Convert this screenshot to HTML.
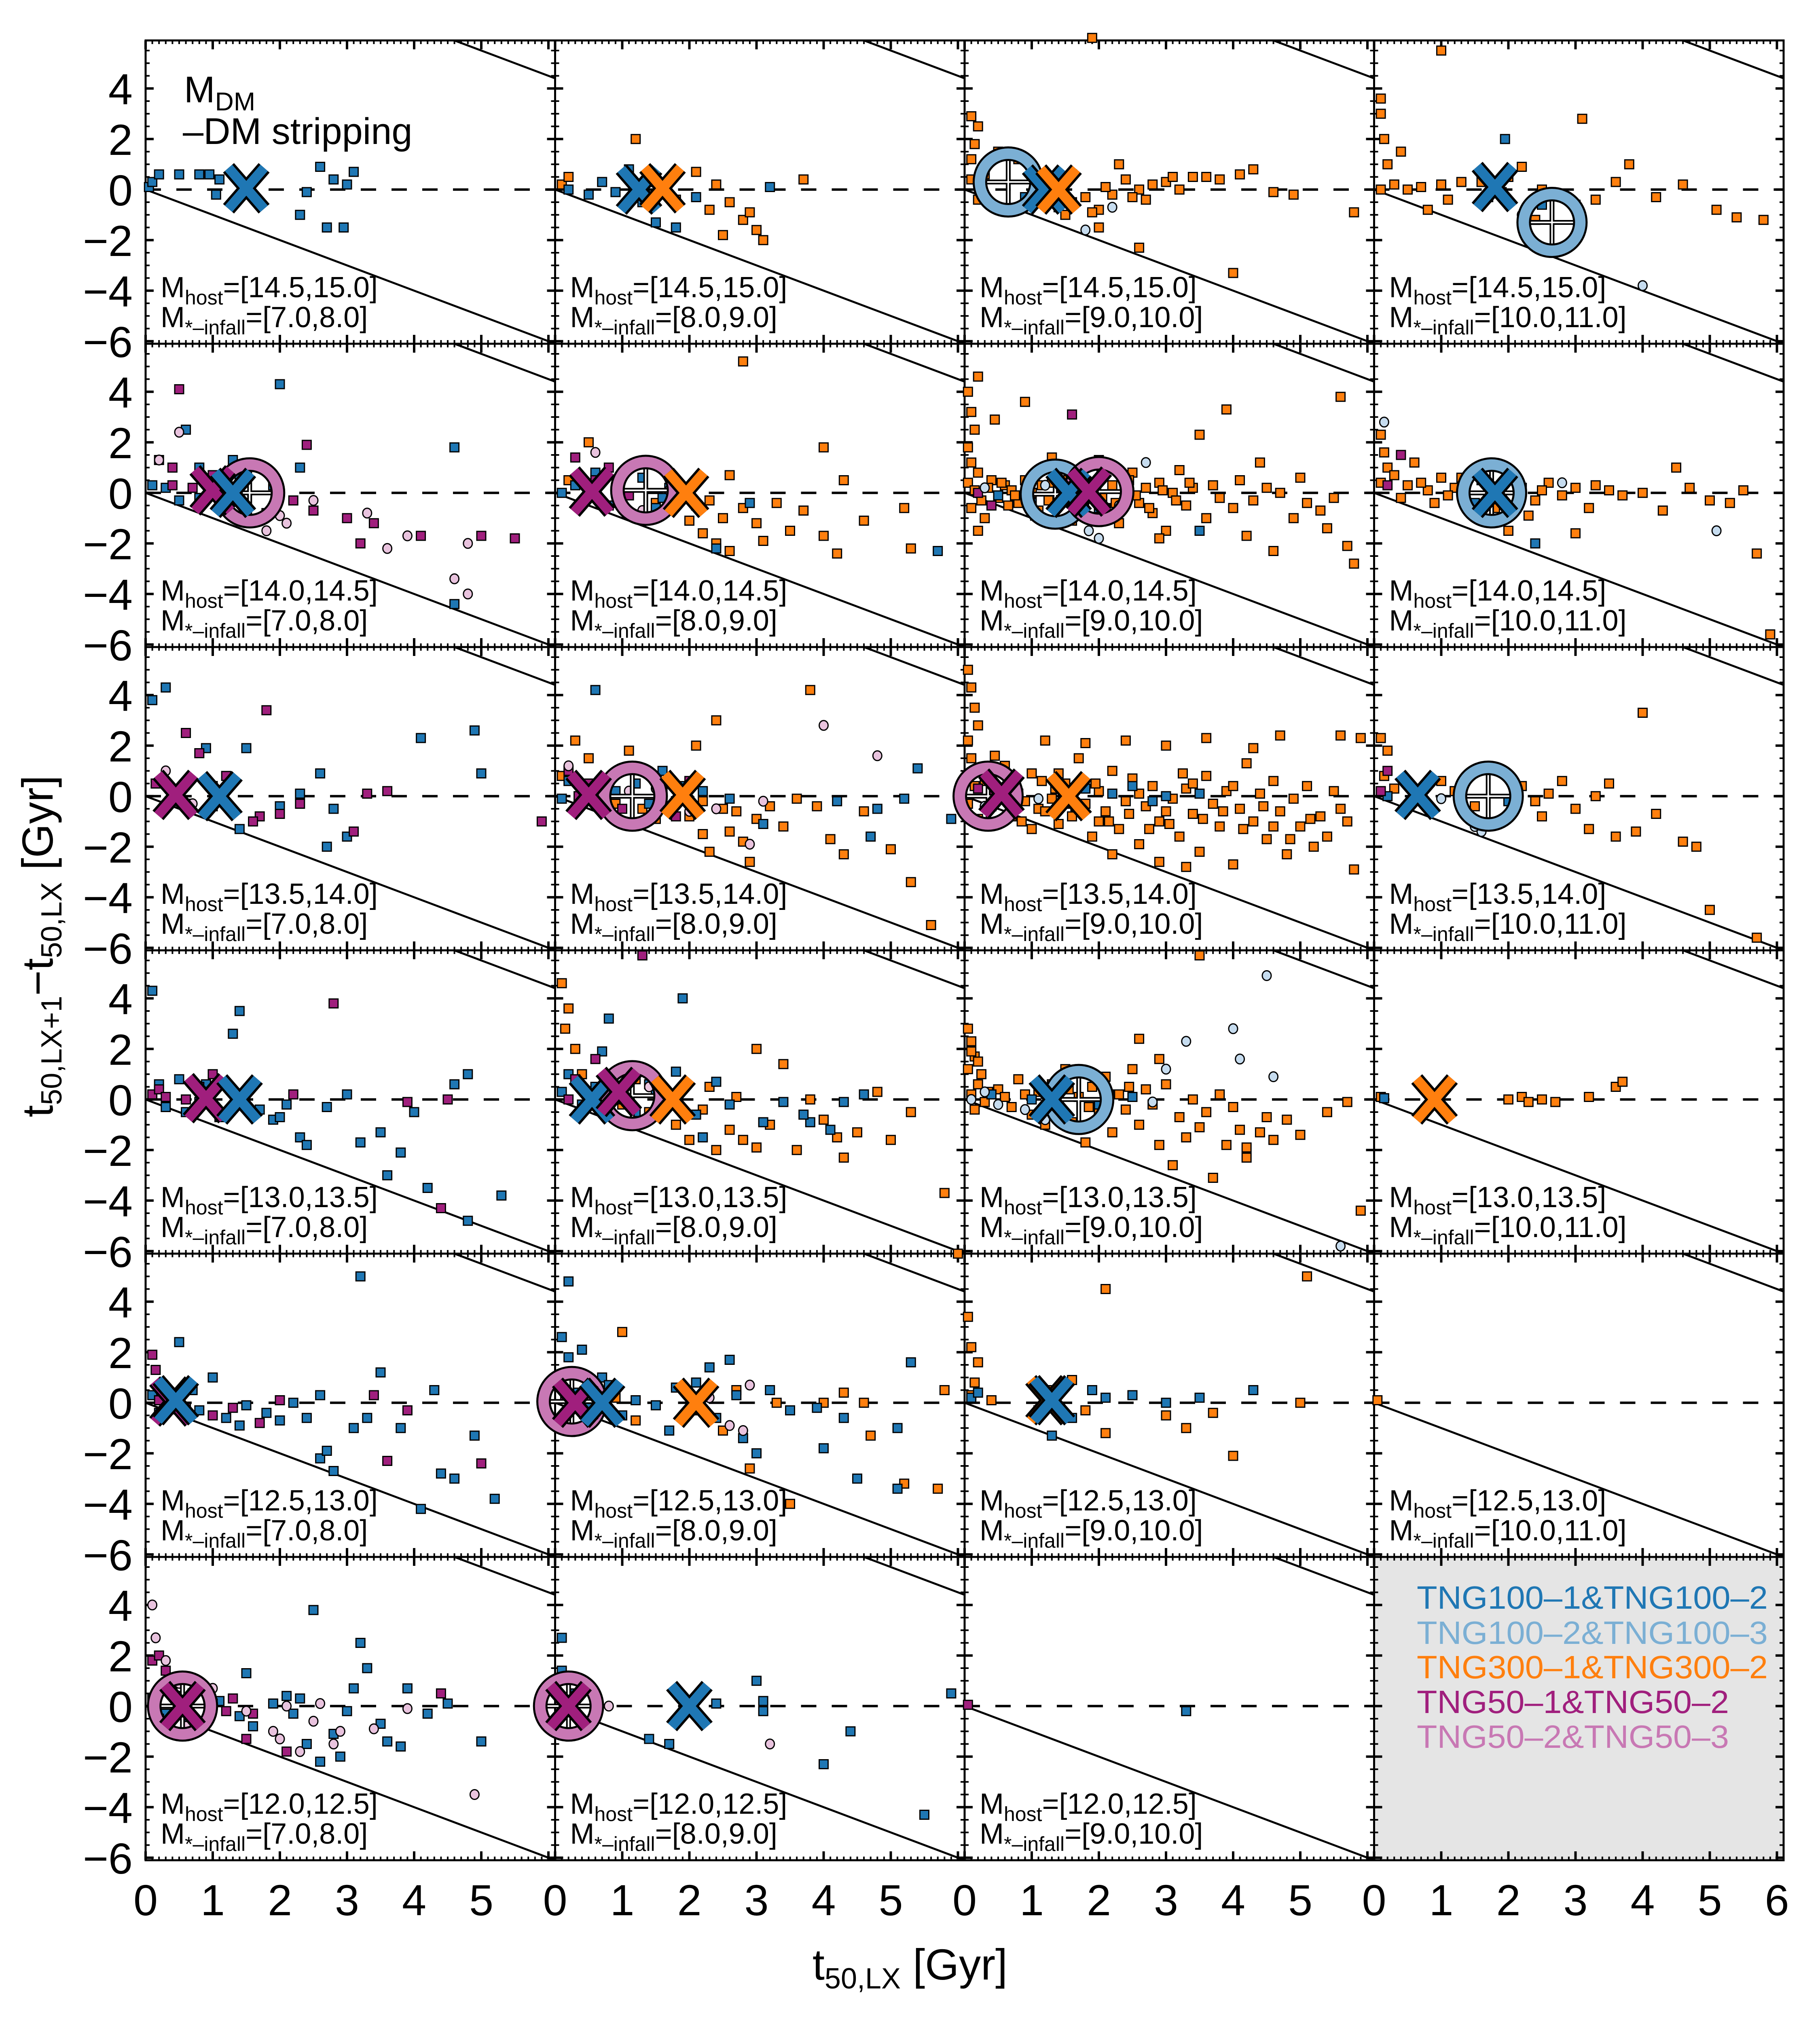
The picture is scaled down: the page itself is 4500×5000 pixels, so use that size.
<!DOCTYPE html>
<html><head><meta charset="utf-8">
<style>
html,body{margin:0;padding:0;background:#fff;}
svg{display:block;font-family:"Liberation Sans",sans-serif;}
</style></head>
<body>
<svg id="fig" width="4500" height="5000" viewBox="0 0 4500 5000" xmlns="http://www.w3.org/2000/svg"></svg>
<script>
// ---------- data (x = t50,LX [Gyr], y = t50,LX+1 - t50,LX [Gyr]) ----------
const hostBins = ["[14.5,15.0]","[14.0,14.5]","[13.5,14.0]","[13.0,13.5]","[12.5,13.0]","[12.0,12.5]"];
const starBins = ["[7.0,8.0]","[8.0,9.0]","[9.0,10.0]","[10.0,11.0]"];
const xTicks0 = [0,1,2,3,4,5];
const xTicksLast = [0,1,2,3,4,5,6];
const yTicks = [4,2,0,-2,-4,-6];
const legendLabels = ["TNG100\u20131&TNG100\u20132","TNG100\u20132&TNG100\u20133","TNG300\u20131&TNG300\u20132","TNG50\u20131&TNG50\u20132","TNG50\u20132&TNG50\u20133"];

// row 0
const B00=[[0.05,0.1],[0.1,0.3],[0.2,0.6],[0.5,0.6],[0.8,0.6],[0.95,0.6],[1.1,0.4],[1.05,-0.2],[2.4,-0.1],[2.6,0.9],[2.8,0.4],[3.1,0.7],[3.0,0.2],[2.7,-1.5],[2.95,-1.5],[2.3,-1.0]];
const O01=[[0.1,0.2],[0.2,0.5],[1.2,2.0],[1.5,0.3],[2.1,0.7],[2.4,0.2],[2.6,-0.5],[2.8,-1.2],[3.0,-1.6],[3.1,-2.0],[2.5,-1.8],[3.7,0.4],[2.9,-0.9],[1.8,-0.4],[2.3,-0.8]];
const B01=[[0.2,0.0],[0.5,-0.2],[0.7,0.3],[0.9,-0.1],[1.1,0.8],[1.3,-0.5],[1.5,-1.3],[1.8,-1.5],[2.1,-0.3],[3.2,0.1]];
const O02=[[0.1,2.9],[0.2,2.5],[0.15,1.8],[0.1,1.2],[0.3,0.6],[0.2,-0.4],[0.1,0.4],[0.5,1.5],[0.8,1.2],[1.0,-0.5],[1.4,-0.7],[1.6,0.6],[1.8,-0.3],[2.0,-0.8],[2.2,-0.2],[2.4,0.4],[2.6,0.0],[2.8,0.2],[3.0,0.3],[3.2,0.0],[3.4,0.5],[3.6,0.5],[3.8,0.4],[4.1,0.6],[4.3,0.8],[4.6,-0.1],[4.9,-0.2],[5.8,-0.9],[4.0,-3.3],[2.0,-1.5],[2.6,-2.3],[2.5,-0.3],[3.1,0.5],[2.3,1.0],[1.9,6.0],[1.5,-1.0],[1.2,0.5],[1.9,-0.9],[2.1,0.1],[2.7,-0.4]];
const L02=[[1.0,-0.3],[1.8,-1.6],[2.2,-0.7]];
const B02=[[0.9,-0.3],[1.6,-0.5]];
const O03=[[0.1,3.6],[0.1,3.0],[0.15,2.0],[0.2,1.0],[0.3,0.2],[0.1,0.0],[0.5,0.0],[0.7,0.1],[1.0,0.2],[1.1,-0.4],[1.3,0.3],[1.6,0.3],[1.9,-0.1],[2.0,0.5],[2.2,0.9],[2.5,0.0],[2.8,-0.3],[3.1,2.8],[3.3,-0.4],[3.6,0.3],[3.8,1.0],[4.2,-0.3],[4.6,0.2],[5.1,-0.8],[5.4,-1.1],[5.8,-1.2],[1.0,5.5],[2.4,-1.2],[3.0,-0.6],[0.4,1.5],[0.8,-0.8]];
const B03=[[1.95,2.0],[2.5,-0.6],[1.7,-0.3]];
const L03=[[2.2,-1.0],[4.0,-3.8]];
// row 1
const B10=[[0.1,0.3],[0.3,0.2],[0.5,-0.3],[0.6,2.5],[0.8,1.0],[1.0,0.5],[1.3,1.3],[1.4,0.6],[2.0,4.3],[1.9,0.3],[1.8,-0.8],[2.3,1.0],[4.6,1.8],[4.6,-4.4],[0.8,-0.2]];
const P10=[[0.2,1.3],[0.4,1.0],[0.5,4.1],[0.4,0.3],[0.7,0.2],[1.0,0.7],[1.2,-0.3],[2.4,1.9],[2.2,-0.3],[2.5,-0.7],[3.0,-1.0],[3.4,-1.2],[3.2,-2.0],[5.0,-1.7],[5.5,-1.8],[4.1,-1.7]];
const K10=[[0.2,1.3],[0.5,2.4],[1.5,0.6],[1.8,-1.5],[2.1,-1.2],[2.5,-0.3],[3.3,-0.8],[3.6,-2.2],[3.9,-1.7],[4.6,-3.4],[4.8,-4.0],[4.8,-2.0],[2.0,-0.9]];
const O11=[[0.2,0.5],[0.5,2.0],[1.9,0.1],[2.0,-1.1],[2.2,-1.6],[2.4,-2.0],[2.6,-2.3],[3.0,-1.2],[3.3,-0.4],[3.5,-1.5],[3.7,-0.7],[4.0,-1.7],[4.2,-2.4],[4.3,0.5],[4.6,-1.1],[5.2,-0.6],[5.3,-2.2],[2.8,-0.6],[1.5,-0.4],[2.6,0.7],[2.8,5.2],[4.0,1.8],[2.3,-0.3],[3.1,-1.9],[2.1,-0.5],[2.5,-1.0]];
const B11=[[0.1,0.0],[0.3,0.3],[0.6,0.8],[0.8,-0.5],[1.3,0.6],[1.6,-0.2],[1.7,0.2],[2.4,-2.2],[2.9,-0.4],[5.7,-2.3],[1.5,-0.6]];
const P11=[[0.3,1.4],[0.8,1.0],[1.1,-0.1],[0.6,0.5]];
const K11=[[0.6,1.6],[1.7,0.1],[1.3,-0.7]];
const O12=[[0.05,4.0],[0.1,3.2],[0.15,2.5],[0.05,1.8],[0.1,1.2],[0.2,0.8],[0.05,0.4],[0.15,0.1],[0.25,-0.3],[0.1,-0.6],[0.3,-1.0],[0.2,-1.5],[0.4,0.5],[0.5,-0.2],[0.6,0.3],[0.7,0.1],[0.8,-0.4],[0.9,0.5],[1.0,0.0],[1.1,-0.7],[1.3,0.4],[1.5,-0.3],[1.7,0.6],[1.9,-0.1],[2.0,1.3],[2.1,-0.6],[2.2,0.3],[2.3,-1.2],[2.4,0.0],[2.5,0.8],[2.6,-0.4],[2.7,0.2],[2.8,-0.8],[2.9,0.4],[3.0,-1.5],[3.1,0.0],[3.2,0.9],[3.3,-0.5],[3.4,0.2],[3.5,2.3],[3.6,-1.0],[3.7,0.3],[3.8,-0.2],[3.9,3.3],[4.0,-0.6],[4.1,0.5],[4.2,-1.7],[4.3,-0.3],[4.5,0.2],[4.6,-2.3],[4.7,0.0],[4.9,-1.0],[5.0,0.6],[5.1,-0.4],[5.3,-0.7],[5.4,-1.4],[5.5,-0.2],[5.7,-2.1],[5.8,-2.8],[5.6,3.8],[1.6,-1.1],[2.9,-1.8],[4.4,1.2],[0.9,3.6],[0.45,2.9],[0.2,4.6],[1.3,1.4],[0.35,0.2],[0.55,0.4],[0.75,-0.1],[0.95,0.2],[1.15,0.3],[1.25,-0.3],[1.45,0.5],[1.65,0.1],[1.85,0.4],[2.05,-0.2],[2.25,-0.4],[2.45,0.5],[2.55,-0.1],[2.75,-0.6],[2.95,0.1],[3.15,-0.3],[3.35,0.4],[0.65,-0.5],[1.05,-0.9],[1.75,-0.6]];
const P12=[[0.2,0.0],[0.4,-0.5],[1.6,3.1],[1.5,-0.2]];
const L12=[[0.3,0.2],[1.2,0.3],[2.0,-1.8],[2.3,-0.5],[1.85,-1.5],[2.7,1.2]];
const B12=[[0.5,-0.1],[1.0,-0.4],[1.6,0.5],[3.5,-1.5],[2.0,-0.6]];
const O13=[[0.1,2.3],[0.15,1.6],[0.2,1.0],[0.1,0.4],[0.3,0.7],[0.4,-0.2],[0.5,0.3],[0.6,1.2],[0.8,0.1],[0.9,-0.4],[1.0,0.6],[1.2,0.2],[1.4,-0.5],[1.6,0.5],[2.2,0.2],[2.4,-0.3],[2.6,0.4],[2.8,-0.1],[3.0,0.2],[3.2,-0.6],[3.5,0.1],[3.7,-0.1],[4.0,0.0],[4.3,-0.7],[4.5,1.0],[4.7,0.2],[5.0,-0.3],[5.3,-0.4],[5.5,0.1],[5.7,-2.4],[5.9,-5.6],[2.3,-0.9],[3.0,-1.6],[2.0,-1.5],[1.8,-0.6],[0.7,0.4],[1.1,-0.1],[1.3,0.6],[2.1,0.5],[2.5,0.1],[3.3,0.3]];
const P13=[[0.2,0.3],[0.4,1.5]];
const L13=[[0.15,2.8],[2.8,0.4],[5.1,-1.5]];
const B13=[[1.5,-0.4],[2.4,-2.0]];
// row 2
const B20=[[0.1,3.8],[0.3,4.3],[0.2,0.5],[0.4,0.2],[0.6,-0.3],[0.9,1.9],[1.0,-0.4],[1.5,1.9],[1.4,-1.3],[2.3,0.1],[2.6,0.9],[2.0,-0.4],[2.8,-0.5],[3.0,-1.6],[4.1,2.3],[4.9,2.6],[5.0,0.9],[2.7,-2.0]];
const P20=[[0.15,0.5],[0.4,0.1],[0.6,2.5],[0.8,1.7],[1.0,0.4],[1.2,0.8],[1.8,3.4],[1.7,-0.8],[2.0,-0.7],[2.3,-0.3],[3.1,-1.4],[3.3,0.1],[3.6,0.2],[5.9,-1.0],[1.6,-1.0]];
const K20=[[0.3,1.0],[0.7,-0.3]];
const O21=[[0.1,0.8],[0.3,2.2],[0.5,1.5],[0.9,-0.3],[1.3,-0.5],[1.6,0.2],[2.0,-0.8],[2.2,-1.5],[2.3,-2.2],[2.5,-0.5],[2.6,-1.4],[2.8,-1.8],[2.9,-2.6],[3.0,-0.9],[3.2,-0.4],[3.4,-1.2],[3.6,-0.1],[3.8,4.2],[3.9,-0.4],[4.1,-1.7],[4.3,-2.3],[4.6,-0.6],[5.0,-2.1],[5.3,-3.4],[5.6,-5.1],[1.8,-0.2],[2.1,2.0],[2.4,3.0],[1.1,1.8],[0.7,0.3],[2.2,-0.2],[2.7,-0.6],[1.5,-0.9]];
const B21=[[0.1,-0.1],[0.2,0.6],[0.4,-0.3],[0.6,4.2],[0.9,0.2],[1.2,0.5],[1.4,-0.3],[1.6,1.0],[1.9,0.4],[2.2,0.2],[2.6,-0.1],[3.1,-1.1],[4.2,-0.2],[4.7,-1.6],[4.8,-0.5],[5.2,-0.1],[5.4,1.1],[5.9,-0.9],[2.0,-0.2]];
const P21=[[0.2,1.0],[0.35,0.0],[0.5,0.5],[1.0,-0.5],[1.8,-0.8],[2.0,0.6]];
const K21=[[0.2,1.2],[1.1,0.2],[1.5,0.3],[2.0,-0.6],[2.4,-0.5],[3.1,-0.2],[4.0,2.8],[4.8,1.6],[2.9,-1.9]];
const O22=[[0.05,5.0],[0.1,4.3],[0.15,3.5],[0.2,2.8],[0.05,2.2],[0.1,1.5],[0.25,1.0],[0.15,0.4],[0.05,-0.3],[0.2,-0.9],[0.3,0.6],[0.4,-0.4],[0.5,0.3],[0.6,1.2],[0.7,-0.8],[0.8,0.1],[0.9,-0.2],[1.0,0.9],[1.1,-0.5],[1.2,2.2],[1.3,-0.1],[1.4,-1.1],[1.5,0.5],[1.6,-0.8],[1.7,1.5],[1.8,-0.3],[1.9,-1.6],[2.0,0.2],[2.1,-0.6],[2.2,1.0],[2.3,-1.3],[2.4,-0.2],[2.5,0.7],[2.6,-1.9],[2.7,-0.4],[2.8,0.4],[2.9,-1.0],[3.0,2.0],[3.1,-0.1],[3.2,-1.6],[3.3,0.3],[3.4,-0.7],[3.5,-2.2],[3.6,0.8],[3.7,-0.3],[3.8,-1.2],[3.9,0.2],[4.0,-2.7],[4.1,-0.5],[4.2,1.3],[4.3,-1.0],[4.4,0.1],[4.5,-1.7],[4.6,0.6],[4.7,-0.6],[4.8,-2.3],[4.9,-0.1],[5.0,-1.2],[5.1,0.4],[5.2,-2.0],[5.3,-0.8],[5.4,-1.6],[5.5,0.2],[5.6,-0.5],[5.7,-1.0],[5.8,-2.9],[5.9,2.3],[2.4,2.2],[1.8,2.1],[3.6,2.3],[4.7,2.4],[5.6,2.4],[2.2,-2.3],[2.9,-2.6],[1.0,-1.3],[1.4,0.9],[2.0,-1.0],[3.0,-0.6],[0.45,1.6],[4.3,1.9],[3.3,-2.8],[1.2,-0.6],[2.6,0.1],[3.4,0.5],[4.0,0.4],[4.6,-1.2],[1.35,0.3],[1.65,-0.4],[1.95,0.5],[2.15,-1.0],[2.45,-0.7],[2.75,-1.3],[3.05,-1.1],[3.25,0.9],[3.55,-0.9],[3.85,-0.6],[4.15,-1.3],[4.45,-0.4],[4.85,-1.7],[5.15,-0.9],[0.85,-1.0],[1.15,0.6]];
const B22=[[1.8,0.3],[2.2,0.1],[2.5,0.4],[3.0,0.0],[1.5,-0.3],[2.8,-0.2],[3.5,0.1]];
const P22=[[0.2,0.3],[0.4,0.1]];
const L22=[[1.1,-0.1],[0.3,-0.4]];
const O23=[[0.1,2.3],[0.2,1.8],[0.15,0.8],[0.3,0.3],[1.0,0.6],[1.2,0.2],[1.5,-0.4],[2.2,0.4],[2.4,-0.2],[2.6,0.1],[2.8,0.6],[3.0,-0.5],[3.2,-1.3],[3.3,0.0],[3.6,-1.6],[3.9,-1.4],[4.0,3.3],[4.2,-0.7],[4.6,-1.8],[4.8,-2.0],[5.0,-4.5],[5.7,-5.6],[1.9,1.0],[2.5,-0.8],[3.5,0.5],[2.1,-0.3]];
const P23=[[0.1,0.2],[0.2,1.0]];
const B23=[[0.2,0.0],[1.3,0.3],[2.0,-0.2]];
const L23=[[1.0,-0.1],[1.6,-1.4],[1.5,-1.2]];
// row 3
const B30=[[0.1,4.3],[0.2,0.6],[0.3,-0.3],[0.5,0.8],[0.6,-0.5],[0.8,-0.1],[0.9,0.6],[1.1,-0.7],[1.4,3.5],[1.3,2.6],[1.7,-0.4],[1.9,-0.8],[2.1,-0.2],[2.3,-1.5],[2.4,-1.8],[2.7,-0.3],[3.0,0.2],[3.2,-1.7],[3.5,-1.3],[3.6,-3.0],[4.0,-0.5],[4.2,-3.5],[4.6,0.6],[4.8,-4.8],[5.3,-3.8],[2.0,-0.7],[4.8,1.0],[3.8,-2.1]];
const P30=[[0.1,0.2],[0.2,0.4],[0.3,0.1],[0.6,0.0],[0.8,0.5],[1.0,1.0],[1.3,0.3],[2.2,0.2],[2.8,3.8],[3.9,-0.1],[4.4,-4.3],[4.5,0.0]];
const O31=[[0.1,4.6],[0.2,3.6],[0.15,2.8],[0.3,2.0],[0.4,1.0],[0.5,0.3],[0.8,0.5],[1.0,-0.2],[1.4,-0.5],[1.6,0.1],[1.8,-1.0],[2.0,-1.6],[2.2,-0.4],[2.4,-2.0],[2.6,-1.2],[2.8,-1.6],[3.0,-1.9],[3.2,-1.0],[3.4,1.4],[3.6,-2.0],[3.8,0.0],[4.0,-0.8],[4.2,-1.5],[4.5,-1.3],[4.8,0.3],[5.0,-1.6],[5.3,-0.5],[5.8,-3.7],[6.0,-6.1],[2.3,0.5],[2.7,0.1],[1.2,0.8],[3.0,2.0],[4.3,-2.3]];
const B31=[[0.1,0.3],[0.2,1.0],[0.4,-0.2],[0.6,0.5],[0.7,1.9],[0.8,3.2],[0.9,0.0],[1.2,-0.5],[1.5,0.3],[1.8,1.1],[1.9,4.0],[2.1,-0.6],[2.4,0.7],[2.6,-0.2],[3.1,-0.9],[3.4,-0.1],[3.8,-0.9],[4.1,-1.2],[4.3,-0.1],[4.6,0.2],[1.4,0.6],[2.2,-1.5],[3.7,-0.6]];
const P31=[[0.2,0.0],[0.3,0.8],[0.6,1.6],[0.9,0.3],[1.3,5.7]];
const K31=[[1.1,0.8],[1.4,0.5]];
const O32=[[0.05,2.8],[0.1,2.3],[0.15,1.7],[0.05,1.2],[0.2,0.6],[0.1,0.2],[0.3,-0.1],[0.15,-0.4],[0.25,1.0],[0.5,0.4],[0.7,-0.3],[0.8,0.8],[1.0,-0.6],[1.1,0.3],[1.2,-1.0],[1.3,0.6],[1.4,-0.2],[1.5,1.2],[1.6,-0.9],[1.7,0.1],[1.8,-1.7],[1.9,0.5],[2.0,-0.5],[2.1,0.9],[2.2,-1.3],[2.3,0.2],[2.4,-0.4],[2.5,1.2],[2.6,-1.0],[2.7,0.4],[2.8,-0.2],[2.9,-1.8],[3.0,0.6],[3.1,-2.6],[3.2,-0.7],[3.3,-1.5],[3.4,0.0],[3.5,-1.1],[3.6,-0.5],[3.7,-3.1],[3.8,0.2],[3.9,-1.8],[4.0,-0.3],[4.1,-1.2],[4.2,-2.3],[4.4,-1.3],[4.5,-0.7],[4.6,-1.6],[4.8,-0.8],[5.0,-1.4],[5.4,-0.5],[5.9,-4.4],[3.5,5.7],[2.6,2.4],[2.9,1.6],[4.2,-1.9],[5.7,-0.1],[0.35,0.3],[0.6,0.1],[0.9,0.2],[1.25,0.1],[1.55,0.4],[1.85,-0.3],[2.15,0.2],[2.45,0.5],[0.2,1.5],[0.1,1.9]];
const L32=[[0.1,0.0],[0.3,0.3],[0.5,-0.2],[0.9,-0.4],[1.2,-0.8],[2.1,0.2],[3.0,1.2],[3.3,2.3],[4.0,2.8],[4.5,4.9],[4.1,1.6],[4.6,0.9],[5.6,-5.8],[2.8,-0.1]];
const B32=[[0.4,0.2],[1.0,0.0],[2.0,-0.2],[2.5,0.1]];
const O33=[[0.1,0.1],[2.0,0.0],[2.2,0.1],[2.5,0.0],[2.7,-0.1],[3.2,0.1],[3.6,0.5],[3.7,0.7],[2.3,-0.1]];
const B33=[[0.15,0.05]];
// row 4
const B40=[[0.1,0.3],[0.2,-0.4],[0.5,2.4],[0.7,0.5],[0.8,-0.3],[1.0,1.0],[1.2,-0.6],[1.4,-0.9],[1.5,-0.1],[1.8,-0.4],[2.0,-0.7],[2.2,0.0],[2.4,-0.6],[2.6,-2.2],[2.7,-1.9],[2.8,-2.7],[3.1,-1.0],[3.2,5.0],[3.5,1.2],[3.3,-0.6],[3.8,-1.0],[4.1,-4.2],[4.4,-2.8],[4.6,-3.0],[4.9,-1.3],[5.2,-3.8],[4.3,0.5],[2.6,0.3]];
const P40=[[0.1,1.9],[0.15,1.3],[0.2,0.1],[0.4,0.4],[0.6,-0.2],[1.0,-0.5],[1.3,-0.2],[1.7,-0.8],[2.0,0.1],[3.4,0.3],[3.6,-2.3],[5.0,-2.4],[3.9,-0.3]];
const B41=[[0.1,2.6],[0.2,1.8],[0.3,0.4],[0.5,-0.2],[0.7,1.0],[0.8,0.7],[1.0,-0.5],[1.2,0.1],[1.5,-0.1],[1.7,-1.1],[1.8,0.6],[2.1,0.8],[2.3,1.4],[2.4,-0.6],[2.6,1.7],[2.7,0.3],[2.8,-1.4],[3.0,-2.0],[3.2,0.5],[3.5,-0.3],[3.9,-0.2],[4.0,-1.8],[4.3,-0.6],[4.5,-3.0],[5.1,-3.4],[5.1,-1.0],[5.3,1.6],[0.2,4.8],[0.4,2.1]];
const O41=[[0.5,0.6],[0.9,0.2],[1.0,2.8],[2.1,-0.3],[2.3,-0.6],[2.5,-1.1],[2.7,0.5],[2.9,-2.6],[3.3,0.0],[3.5,-4.0],[4.0,0.0],[4.3,0.4],[4.6,0.0],[4.7,-1.3],[5.2,-3.2],[5.7,-3.4],[5.8,0.5],[1.2,-0.7]];
const P41=[[0.15,0.2],[0.3,-0.1]];
const K41=[[2.6,-0.9],[2.3,0.2],[2.9,0.7],[2.8,-1.1]];
const O42=[[0.05,3.4],[0.1,2.2],[0.2,1.6],[0.15,0.8],[0.1,0.3],[0.4,0.1],[1.3,0.5],[1.5,-0.5],[2.1,-1.2],[2.1,4.5],[3.0,-0.5],[3.7,-0.4],[4.0,-2.1],[5.0,0.0],[5.1,5.0],[1.6,0.9],[1.8,-0.3],[3.3,-1.0]];
const B42=[[0.1,0.2],[0.2,0.4],[1.1,-0.3],[1.3,-1.3],[1.6,-0.6],[2.1,0.2],[2.5,0.3],[3.0,0.0],[3.5,0.2],[4.3,0.5],[1.9,0.5]];
const O43=[[0.05,0.1]];
// row 5
const B50=[[0.1,0.3],[0.3,-0.3],[0.5,0.4],[0.6,-0.6],[0.8,0.9],[1.1,0.2],[1.4,-0.4],[1.6,-0.8],[1.9,0.1],[2.1,0.4],[2.2,-0.3],[2.4,-1.5],[2.5,3.8],[2.6,-2.2],[2.8,-1.1],[2.9,-2.0],[3.1,0.7],[3.2,2.5],[3.3,1.5],[3.5,-0.7],[3.6,-1.4],[3.8,-1.6],[3.9,0.7],[4.2,-0.3],[4.5,0.1],[5.0,-1.4],[2.3,0.3],[3.0,-0.2],[1.5,1.3]];
const P50=[[0.1,1.8],[0.2,2.0],[0.3,1.4],[0.4,0.8],[0.5,0.2],[0.7,0.5],[1.0,0.1],[1.3,0.3],[1.6,-0.3],[2.1,-1.8],[1.5,-1.3],[1.2,-0.2],[4.4,0.5],[0.2,-0.5]];
const K50=[[0.1,4.0],[0.15,2.7],[0.3,1.8],[0.5,0.9],[0.6,-0.8],[1.0,0.7],[1.5,-0.2],[1.9,-1.0],[2.0,-1.3],[2.1,0.0],[2.5,-0.6],[2.6,0.1],[2.8,-1.5],[2.9,-1.0],[3.4,-0.9],[3.9,-0.1],[4.9,-3.5],[2.3,-1.8]];
const B51=[[0.1,2.7],[0.1,1.4],[0.3,0.5],[0.5,-0.6],[1.4,-1.3],[1.7,-1.5],[1.8,-0.6],[2.4,0.1],[3.0,1.0],[3.1,-0.2],[4.0,-2.3],[4.4,-1.0],[5.5,-4.3],[5.9,0.5],[3.1,0.2]];
const P51=[[0.1,0.3],[0.3,0.1]];
const K51=[[0.1,-0.2],[0.8,0.0],[3.2,-1.5]];
const P52=[[0.05,0.05]];
const B52=[[3.3,-0.2]];

// medians: big X markers [x,y] and big circle markers [x,y]
const XB00=[[1.5,0.05]];
const XB01=[[1.25,0.0]]; const XO01=[[1.6,0.05]];
const CL02=[[0.65,0.3]]; const XB02=[[1.2,0.0]]; const XO02=[[1.4,0.0]];
const XB03=[[1.8,0.1]]; const CL03=[[2.65,-1.3]];
const XP10=[[1.0,0.1]]; const XB10=[[1.3,0.0]]; const CK10=[[1.55,0.0]];
const XP11=[[0.55,0.05]]; const CK11=[[1.35,0.1]]; const XO11=[[1.95,0.0]];
const CL12=[[1.35,-0.05]]; const CK12=[[2.0,0.05]]; const XB12=[[1.55,0.0]]; const XP12=[[1.85,0.05]];
const CL13=[[1.75,0.0]]; const XB13=[[1.8,0.0]];
const XP20=[[0.45,0.05]]; const XB20=[[1.1,0.0]];
const CK21=[[1.15,0.0]]; const XP21=[[0.5,0.05]]; const XO21=[[1.9,0.05]];
const CK22=[[0.35,0.0]]; const XP22=[[0.55,0.1]]; const XO22=[[1.55,0.0]];
const CL23=[[1.7,0.0]]; const XB23=[[0.65,0.05]];
const XP30=[[0.9,0.05]]; const XB30=[[1.4,0.0]];
const CK31=[[1.15,0.15]]; const XB31=[[0.55,0.0]]; const XP31=[[0.95,0.3]]; const XO31=[[1.75,0.0]];
const CL32=[[1.7,0.0]]; const XB32=[[1.3,0.0]];
const XO33=[[0.9,0.0]];
const XP40=[[0.4,0.05]]; const XB40=[[0.45,0.1]];
const CK41=[[0.25,0.05]]; const XP41=[[0.3,0.0]]; const XB41=[[0.7,0.0]]; const XO41=[[2.1,0.0]];
const XO42=[[1.25,0.1]]; const XB42=[[1.3,0.1]];
const CK50=[[0.55,0.0]]; const XP50=[[0.55,0.0]];
const CK51=[[0.2,0.0]]; const XP51=[[0.2,0.0]]; const XB51=[[2.0,0.0]];

// ---------- layout ----------
const COLORS={B:"#1f77b4",L:"#7bafd4",O:"#ff7f0e",P:"#a01f7d",K:"#c878b4"};
const SMALLFILL={B:"#1f77b4",L:"#c6dcef",O:"#ff7f0e",P:"#a01f7d",K:"#e9c3de"};
const COL0=[360,1372.5,2385,3397.5], ROW0=100, ROWH=750, UX=166, UY=62.5, YMAX=5.9, XMAXP=6.1;
function sx(c,x){return COL0[c]+x*UX;}
function sy(r,y){return ROW0+ROWH*r+(YMAX-y)*UY;}

const panels=[
 {r:0,c:0,pts:{B:B00},C:{},X:{B:XB00}},
 {r:0,c:1,pts:{O:O01,B:B01},C:{},X:{B:XB01,O:XO01}},
 {r:0,c:2,pts:{O:O02,L:L02,B:B02},C:{L:CL02},X:{B:XB02,O:XO02}},
 {r:0,c:3,pts:{O:O03,B:B03,L:L03},C:{L:CL03},X:{B:XB03}},
 {r:1,c:0,pts:{B:B10,P:P10,K:K10},C:{K:CK10},X:{P:XP10,B:XB10}},
 {r:1,c:1,pts:{O:O11,B:B11,P:P11,K:K11},C:{K:CK11},X:{P:XP11,O:XO11}},
 {r:1,c:2,pts:{O:O12,P:P12,L:L12,B:B12},C:{L:CL12,K:CK12},X:{B:XB12,P:XP12}},
 {r:1,c:3,pts:{O:O13,P:P13,L:L13,B:B13},C:{L:CL13},X:{B:XB13}},
 {r:2,c:0,pts:{B:B20,P:P20,K:K20},C:{},X:{P:XP20,B:XB20}},
 {r:2,c:1,pts:{O:O21,B:B21,P:P21,K:K21},C:{K:CK21},X:{P:XP21,O:XO21}},
 {r:2,c:2,pts:{O:O22,B:B22,P:P22,L:L22},C:{K:CK22},X:{P:XP22,O:XO22}},
 {r:2,c:3,pts:{O:O23,P:P23,B:B23,L:L23},C:{L:CL23},X:{B:XB23}},
 {r:3,c:0,pts:{B:B30,P:P30},C:{},X:{P:XP30,B:XB30}},
 {r:3,c:1,pts:{O:O31,B:B31,P:P31,K:K31},C:{K:CK31},X:{B:XB31,P:XP31,O:XO31}},
 {r:3,c:2,pts:{O:O32,L:L32,B:B32},C:{L:CL32},X:{B:XB32}},
 {r:3,c:3,pts:{O:O33,B:B33},C:{},X:{O:XO33}},
 {r:4,c:0,pts:{B:B40,P:P40},C:{},X:{P:XP40,B:XB40}},
 {r:4,c:1,pts:{B:B41,O:O41,P:P41,K:K41},C:{K:CK41},X:{P:XP41,B:XB41,O:XO41}},
 {r:4,c:2,pts:{O:O42,B:B42},C:{},X:{O:XO42,B:XB42}},
 {r:4,c:3,pts:{O:O43},C:{},X:{}},
 {r:5,c:0,pts:{B:B50,P:P50,K:K50},C:{K:CK50},X:{P:XP50}},
 {r:5,c:1,pts:{B:B51,P:P51,K:K51},C:{K:CK51},X:{P:XP51,B:XB51}},
 {r:5,c:2,pts:{P:P52,B:B52},C:{},X:{}}
];

const NS="http://www.w3.org/2000/svg";
const svg=document.getElementById("fig");
function el(tag,attrs,parent){const e=document.createElementNS(NS,tag);for(const k in attrs)e.setAttribute(k,attrs[k]);(parent||svg).appendChild(e);return e;}

// panels
for(let r=0;r<6;r++){for(let c=0;c<4;c++){
  const g=el("g",{});
  
  
  const x0=COL0[c], y0=ROW0+ROWH*r, w=1012.5, h=ROWH;
  const legendPanel=(r===5&&c===3);
  el("rect",{x:x0,y:y0,width:w,height:h,fill:legendPanel?"#e5e5e5":"#fff",stroke:"none"},g);
  if(!legendPanel){
    const clipId="clip"+r+c;
    const cp=el("clipPath",{id:clipId},g); el("rect",{x:x0,y:y0,width:w,height:h},cp);
    const lg=el("g",{"clip-path":"url(#"+clipId+")"},g);
    const d0=el("line",{x1:sx(c,0),y1:sy(r,0),x2:sx(c,XMAXP),y2:sy(r,0),stroke:"#000","stroke-width":6,"stroke-dasharray":"38 38"},lg);
    
    
    const l1=el("line",{x1:sx(c,0),y1:sy(r,0),x2:sx(c,6.3),y2:sy(r,-6.3),stroke:"#000","stroke-width":5},lg);
    
    
    const l2=el("line",{x1:sx(c,4.0),y1:sy(r,6.5),x2:sx(c,6.3),y2:sy(r,4.2),stroke:"#000","stroke-width":5},lg);
    
    
    const t1=el("text",{x:x0+37,y:y0+635,"font-size":72},g);
    
    
    t1.innerHTML='M<tspan font-size="50" dy="18">host</tspan><tspan dy="-18">='+hostBins[r]+'</tspan>';
    const t2=el("text",{x:x0+37,y:y0+709,"font-size":72},g);
    
    
    t2.innerHTML='M<tspan font-size="50" dy="18">*\u2013infall</tspan><tspan dy="-18">='+starBins[c]+'</tspan>';
  }
  const tk=el("g",{stroke:"#000"},g);
  for(let k=-12;k<=11;k++){const yv=k*0.5; if(yv<-6.1||yv>5.9)continue;
    const major=(k%4===0); const L=major?20:10, sw=major?6:4; const yy=sy(r,yv);
    el("line",{x1:x0,y1:yy,x2:x0+L,y2:yy,"stroke-width":sw},tk);
    el("line",{x1:x0+w-L,y1:yy,x2:x0+w,y2:yy,"stroke-width":sw},tk);}
  for(let k=0;k<=61;k++){const xv=k*0.1; const major=(k%10===0); const L=major?22:9, sw=major?6:4; const xx=sx(c,xv);
    el("line",{x1:xx,y1:y0,x2:xx,y2:y0+L,"stroke-width":sw},tk);
    el("line",{x1:xx,y1:y0+h-L,x2:xx,y2:y0+h,"stroke-width":sw},tk);}
  el("rect",{x:x0,y:y0,width:w,height:h,fill:"none",stroke:"#000","stroke-width":5},g);
}}

// data marks
for(const p of panels){
  const g=el("g",{});
  
  
  for(const s of ["O","B","P","L","K"]){
    const arr=p.pts[s]; if(!arr)continue;
    for(const [x,y] of arr){
      const cx=sx(p.c,x), cy=sy(p.r,y);
      let m;
      if(s==="L"||s==="K"){
        m=el("ellipse",{cx:cx,cy:cy,rx:11,ry:12,fill:SMALLFILL[s],stroke:"#000","stroke-width":3},g);
      } else {
        m=el("rect",{x:cx-11,y:cy-11,width:22,height:22,fill:SMALLFILL[s],stroke:"#000","stroke-width":3},g);
      }
      
      
    }
  }
  for(const s in p.C){
    for(const [x,y] of p.C[s]){
      const cx=sx(p.c,x), cy=sy(p.r,y);
      const cg=el("g",{},g);
      
      
      el("circle",{cx:cx,cy:cy,r:70,fill:"none",stroke:"#000","stroke-width":36},cg);
      el("circle",{cx:cx,cy:cy,r:70,fill:"none",stroke:COLORS[s],"stroke-width":26},cg);
      el("line",{x1:cx-54,y1:cy,x2:cx+54,y2:cy,stroke:"#000","stroke-width":12},cg);
      el("line",{x1:cx,y1:cy-54,x2:cx,y2:cy+54,stroke:"#000","stroke-width":12},cg);
      el("line",{x1:cx-52,y1:cy,x2:cx+52,y2:cy,stroke:"#fff","stroke-width":4},cg);
      el("line",{x1:cx,y1:cy-52,x2:cx,y2:cy+52,stroke:"#fff","stroke-width":4},cg);
    }
  }
  for(const s in p.X){
    for(const [x,y] of p.X[s]){
      const cx=sx(p.c,x), cy=sy(p.r,y);
      const xg=el("g",{},g);
      
      
      const d=44;
      for(const [c1,w1] of [["#000",36],[COLORS[s],24]]){
        el("line",{x1:cx-d,y1:cy-d*1.15,x2:cx+d,y2:cy+d*1.15,stroke:c1,"stroke-width":w1,"stroke-linecap":"butt"},xg);
        el("line",{x1:cx-d,y1:cy+d*1.15,x2:cx+d,y2:cy-d*1.15,stroke:c1,"stroke-width":w1,"stroke-linecap":"butt"},xg);
      }
    }
  }
}

// y tick labels
for(let r=0;r<6;r++){for(const v of yTicks){
  const t=el("text",{x:328,y:sy(r,v)+39,"font-size":108,"text-anchor":"end"});
  
  
  t.textContent=(v<0?"\u2212":"")+Math.abs(v);
}}
// x tick labels
for(let c=0;c<4;c++){const ticks=(c===3)?xTicksLast:xTicks0; for(const v of ticks){
  const t=el("text",{x:sx(c,v),y:4736,"font-size":108,"text-anchor":"middle"});
  
  
  t.textContent=String(v);
}}
// axis titles
const xt=el("text",{x:2250,y:4895,"font-size":108,"text-anchor":"middle"});


xt.innerHTML='t<tspan font-size="72" dy="22">50,LX</tspan><tspan dy="-22"> [Gyr]</tspan>';
const yt=el("text",{x:0,y:0,"font-size":108,"text-anchor":"middle",transform:"translate(130,2340) rotate(-90)"});


yt.innerHTML='t<tspan font-size="72" dy="22">50,LX+1</tspan><tspan dy="-22">\u2212t</tspan><tspan font-size="72" dy="22">50,LX</tspan><tspan dy="-22"> [Gyr]</tspan>';

// panel title
const tt1=el("text",{x:455,y:253,"font-size":92});


tt1.innerHTML='M<tspan font-size="64" dy="20">DM</tspan>';
const tt2=el("text",{x:452,y:356,"font-size":92});


tt2.textContent='\u2013DM stripping';

// legend
const legColors=[COLORS.B,COLORS.L,COLORS.O,COLORS.P,COLORS.K];
const legY=[3978,4065,4150,4236,4322];
const legW=[868,868,868,772,772];
for(let i=0;i<legendLabels.length;i++){
  const t=el("text",{x:3503,y:legY[i],"font-size":80,fill:legColors[i],textLength:legW[i],lengthAdjust:"spacingAndGlyphs"});
  
  
  t.textContent=legendLabels[i];
}
</script>
</body></html>
